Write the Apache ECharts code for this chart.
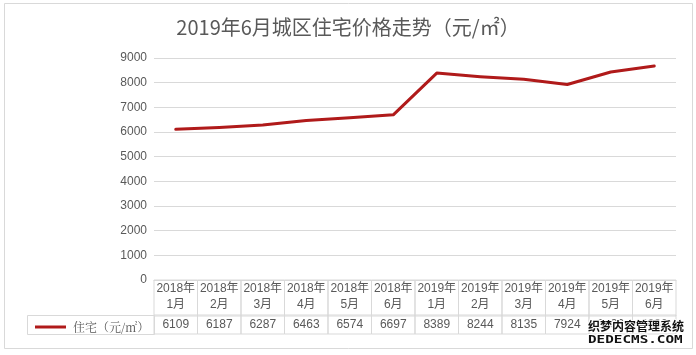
<!DOCTYPE html>
<html><head><meta charset="utf-8">
<script src="https://cdn.jsdelivr.net/npm/echarts@6/dist/echarts.min.js"></script>
<style>html,body{margin:0;padding:0;background:#fff;}#c{width:696px;height:355px;}</style>
</head><body><div id="c"></div>
<script>
var titleText = '2019年6月城区住宅价格走势（元/㎡）';
var seriesName = '住宅（元/㎡）';
var categories = ['2018年\n1月','2018年\n2月','2018年\n3月','2018年\n4月','2018年\n5月','2018年\n6月','2019年\n1月','2019年\n2月','2019年\n3月','2019年\n4月','2019年\n5月','2019年\n6月'];
var values = [6109, 6187, 6287, 6463, 6574, 6697, 8389, 8244, 8135, 7924, 8430, 8680];
var yTicks = [0, 1000, 2000, 3000, 4000, 5000, 6000, 7000, 8000, 9000];

var GRID_L = 154, GRID_R = 676, GRID_T = 58, GRID_B = 280;
var cellW = (GRID_R - GRID_L) / categories.length;
var border = '#d9d9d9';
var txt = '#595959';
var font = '"Liberation Sans", "Noto Sans CJK SC", sans-serif';

var chart = echarts.init(document.getElementById('c'), null, {renderer: 'canvas'});
chart.setOption({
  animation: false,
  backgroundColor: '#fff',
  title: {
    text: titleText, left: 'center', top: 12,
    textStyle: {color: txt, fontSize: 20, fontWeight: 'normal', fontFamily: '"Noto Sans CJK SC", sans-serif'}
  },
  grid: {left: GRID_L, right: 696 - GRID_R, top: GRID_T, bottom: 355 - GRID_B, containLabel: false},
  legend: {
    data: [seriesName], left: 30, top: 316, itemWidth: 31, itemHeight: 3, itemGap: 0,
    icon: 'rect',
    textStyle: {color: txt, fontSize: 12, fontFamily: '"Noto Serif CJK SC", "Noto Sans CJK SC", serif', padding: [0,0,0,2]}
  },
  xAxis: [{
    type: 'category', data: categories, boundaryGap: true,
    axisLine: {show: true, lineStyle: {color: border}},
    axisTick: {show: false},
    axisLabel: {
      interval: 0, margin: 0, color: txt, fontSize: 12, fontFamily: font,
      lineHeight: 16, width: cellW, height: 35, borderColor: border, borderWidth: 1,
      padding: [1, 0, 0, 0], verticalAlign: 'top', align: 'center'
    }
  }, {
    type: 'category', data: values.map(String), position: 'bottom', offset: 35,
    axisLine: {show: false}, axisTick: {show: false},
    axisLabel: {
      interval: 0, margin: 0, color: txt, fontSize: 12, fontFamily: font,
      width: cellW, height: 19, lineHeight: 19, borderColor: border, borderWidth: 1,
      padding: 0, verticalAlign: 'top', align: 'center'
    }
  }],
  yAxis: {
    type: 'value', min: 0, max: 9000, interval: 1000,
    axisLine: {show: false}, axisTick: {show: false},
    axisLabel: {color: txt, fontSize: 12, fontFamily: font, margin: 7,
      formatter: function (v) { return yTicks.indexOf(v) >= 0 ? String(v) : ''; }},
    splitLine: {lineStyle: {color: border, width: 1}}
  },
  series: [{
    name: seriesName, type: 'line', data: values, xAxisIndex: 0,
    symbol: 'none', smooth: false,
    lineStyle: {color: '#b01a1a', width: 3, cap: 'round', join: 'round'},
    itemStyle: {color: '#b01a1a'}
  }],
  graphic: [
    {type: 'rect', shape: {x: 4.5, y: 3.5, width: 688, height: 345}, style: {fill: null, stroke: border, lineWidth: 1}, silent: true, z: -1},
    {type: 'rect', shape: {x: 27.5, y: 315.5, width: GRID_L - 27, height: 19}, style: {fill: null, stroke: border, lineWidth: 1}, silent: true},
    {type: 'text', x: 588, y: 320, style: {text: '织梦内容管理系统', fontSize: 12, fontWeight: 'bold', fill: '#111', stroke: '#fff', lineWidth: 2, fontFamily: '"Noto Sans CJK SC", sans-serif'}, z: 100},
    {type: 'text', x: 588, y: 335, scaleX: 1.3, style: {text: 'DEDECMS.COM', fontSize: 11, fontWeight: 'bold', fill: '#111', stroke: '#fff', lineWidth: 2, fontFamily: '"DejaVu Sans Mono", monospace'}, z: 100}
  ]
});
</script></body></html>
